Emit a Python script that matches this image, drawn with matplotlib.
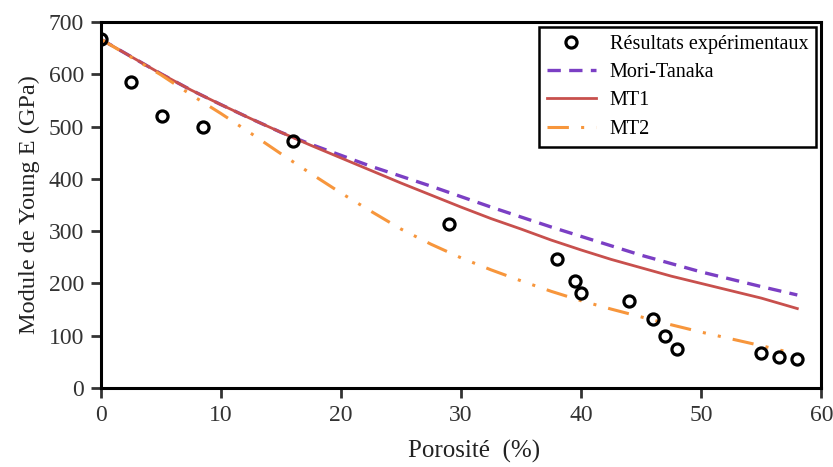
import matplotlib
matplotlib.use("Agg")
import matplotlib.pyplot as plt

plt.rcParams['font.family'] = ['Liberation Serif', 'DejaVu Serif']

# experimental points
poro_exp = [0, 2.5, 5.1, 8.5, 16, 29, 38, 39.5, 40, 44, 46, 47, 48, 55, 56.5, 58]
E_exp = [667, 585, 520, 499, 472, 314, 247, 205, 181, 167, 133, 100, 75, 67, 60, 55]

# model curves
poro_mod = [0, 2.5, 5, 7.5, 10, 12.5, 15, 17.5, 20, 22.5, 25, 27.5, 30,
            32.5, 35, 37.5, 40, 42.5, 45, 47.5, 50, 52.5, 55, 58]
E_mori = [667, 634, 601, 570, 542, 515, 489, 466, 445, 424, 405, 386, 366,
          346, 327, 308, 290, 272, 254, 238, 222, 208, 194, 178]
E_mt1 = [667, 634, 601, 570, 542, 515, 489, 464, 440, 416, 392, 369, 346,
         324, 304, 283, 264, 246, 230, 214, 200, 186, 172, 152]
poro_mt2 = [0, 2.5, 5, 7.5, 10, 12.5, 15, 17.5, 20, 22.5, 25, 27.5, 30,
            32.5, 35, 37.5, 40, 42.5, 45, 47.5, 50, 52.5, 55, 57.4]
E_mt2 = [667, 633, 599, 561, 525, 487, 448, 410, 373, 338, 304, 275, 249,
         226, 205, 185, 167, 151, 136, 121, 107, 94, 81, 68]

fig = plt.figure(figsize=(8.33, 4.67), dpi=100)
ax = fig.add_axes([0.121, 0.169, 0.865, 0.784])

ax.plot(poro_mod, E_mori, color='#7b3fc4', ls=(0, (4, 2.5)), lw=2.4, label='Mori-Tanaka')
ax.plot(poro_mod, E_mt1, color='#c8504d', lw=2, label='MT1')
ax.plot(poro_mt2, E_mt2, color='#f7963c', lw=2.2, ls=(0, (7, 4, 1, 4, 1, 4)), label='MT2')
ax.plot(poro_exp, E_exp, 'o', mfc='none', mec='black', mew=2.3, ms=8,
        ls='none', label='Résultats expérimentaux')

ax.set_xlim(0, 60)
ax.set_ylim(0, 700)
ax.set_xticks(range(0, 61, 10))
ax.set_yticks(range(0, 701, 100))
ax.tick_params(direction='out', length=7, width=2, labelsize=17, colors='#333333', pad=5)
for s in ax.spines.values():
    s.set_linewidth(2.2)

ax.set_xlabel('Porosité  (%)', fontsize=18, labelpad=10, color='#222222')
ax.xaxis.label.set_x(0.518)
ax.set_ylabel('Module de Young E (GPa)', fontsize=17.5, labelpad=6, color='#222222')

h, l = ax.get_legend_handles_labels()
order = [3, 0, 1, 2]
leg = ax.legend([h[i] for i in order], [l[i] for i in order], loc='upper right',
                fontsize=14.5, fancybox=False, framealpha=1, edgecolor='black',
                borderaxespad=0.25, handlelength=2.4, handletextpad=0.7,
                labelspacing=0.45, borderpad=0.4)
leg.get_frame().set_linewidth(1.8)

fig.savefig('out.png', dpi=100)
